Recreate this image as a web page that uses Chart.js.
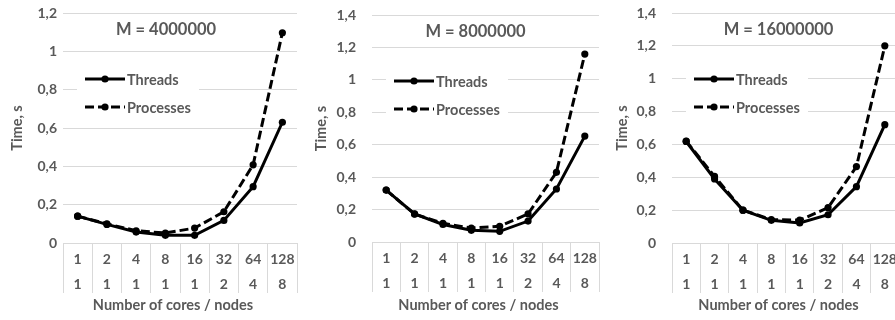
<!DOCTYPE html>
<html>
<head>
<meta charset="utf-8">
<script src="https://cdn.jsdelivr.net/npm/chart.js@4.4.1/dist/chart.umd.min.js"></script>
<style>
  html, body { margin: 0; padding: 0; background: #fff; width: 895px; height: 320px; overflow: hidden; }
  .panel { position: absolute; top: 0; height: 320px; }
</style>
</head>
<body>
<div class="panel" style="left:0;width:301px"><canvas id="c1" width="301" height="320"></canvas></div>
<div class="panel" style="left:298px;width:305px"><canvas id="c2" width="305" height="320"></canvas></div>
<div class="panel" style="left:598px;width:305px"><canvas id="c3" width="305" height="320"></canvas></div>
<script>
// values
const coreLabels = ["1", "2", "4", "8", "16", "32", "64", "128"];
const nodeLabels = ["1", "1", "1", "1", "1", "2", "4", "8"];
const chartTitles = ["M = 4000000", "M = 8000000", "M = 16000000"];
const yMaxes = [1.2, 1.4, 1.4];
const seriesNames = ["Threads", "Processes"];

const threads4M = [0.14, 0.097, 0.057, 0.04, 0.04, 0.118, 0.294, 0.63];
const processes4M = [0.14, 0.10, 0.064, 0.052, 0.078, 0.163, 0.408, 1.097];
const threads8M = [0.32, 0.173, 0.108, 0.072, 0.066, 0.129, 0.327, 0.653];
const processes8M = [0.32, 0.172, 0.115, 0.086, 0.097, 0.173, 0.43, 1.159];
const threads16M = [0.618, 0.39, 0.2, 0.138, 0.122, 0.172, 0.343, 0.72];
const processes16M = [0.62, 0.405, 0.2, 0.143, 0.139, 0.215, 0.465, 1.2];

const GRAY = "#595959";
const GRID = "#d9d9d9";
const FONT = "Lato, 'Open Sans', sans-serif";

// per-panel layout
const panels = [
  { id: "c1", threads: threads4M, processes: processes4M, yWidth: 63, tickGap: 2, yTitlePad: 9, padTop: 13, xHeight: 77, titleShift: -14 },
  { id: "c2", threads: threads8M, processes: processes8M, yWidth: 74, tickGap: 12, yTitlePad: 15, padTop: 15, xHeight: 78, titleShift: -10 },
  { id: "c3", threads: threads16M, processes: processes16M, yWidth: 74, tickGap: 12, yTitlePad: 16, padTop: 13, xHeight: 77, titleShift: -7 },
];

const overlay = {
  id: "overlay",
  beforeDatasetsDraw(chart, args, opts) {
    const a = chart.chartArea;
    const ctx = chart.ctx;
    ctx.save();
    // legend box inside plot
    ctx.fillStyle = "#fff";
    ctx.fillRect(a.left + 14, a.top + 50, 122, 58);
    chart.data.datasets.forEach((ds, i) => {
      const y = a.top + 66 + i * 28;
      ctx.strokeStyle = ds.borderColor;
      ctx.lineWidth = ds.borderWidth;
      ctx.setLineDash(ds.borderDash || []);
      ctx.beginPath();
      ctx.moveTo(a.left + 22, y);
      ctx.lineTo(a.left + 62, y);
      ctx.stroke();
      ctx.setLineDash([]);
      ctx.fillStyle = ds.pointBackgroundColor;
      ctx.beginPath();
      ctx.arc(a.left + 42, y, 3.6, 0, Math.PI * 2);
      ctx.fill();
      ctx.fillStyle = GRAY;
      ctx.font = "bold 14.5px " + FONT;
      ctx.textAlign = "left";
      ctx.textBaseline = "middle";
      ctx.fillText(ds.label, a.left + 64, y + 1);
    });
    // chart title
    ctx.fillStyle = GRAY;
    ctx.textAlign = "center";
    ctx.textBaseline = "middle";
    ctx.font = "bold 16.5px " + FONT;
    ctx.fillText(opts.title, (a.left + a.right) / 2 + opts.titleShift, a.top + 17);
    // x axis title
    ctx.font = "bold 14.5px " + FONT;
    ctx.fillText("Number of cores / nodes", (a.left + a.right) / 2 - 7, chart.height - 15);
    ctx.restore();
  },
};

function commaTick(v) {
  return String(Math.round(v * 10) / 10).replace(".", ",");
}

panels.forEach((p, k) => {
  const tickFont = { family: FONT, size: 14, weight: "bold" };
  new Chart(document.getElementById(p.id), {
    type: "line",
    data: {
      labels: coreLabels.map((c, i) => [c, nodeLabels[i]]),
      datasets: [
        {
          label: seriesNames[0],
          data: p.threads,
          borderColor: "#000",
          borderWidth: 3,
          pointRadius: 3.6,
          pointBorderWidth: 0,
          pointBackgroundColor: "#000",
          tension: 0,
        },
        {
          label: seriesNames[1],
          data: p.processes,
          borderColor: "#000",
          borderWidth: 3,
          borderDash: [9, 4],
          pointRadius: 3.6,
          pointBorderWidth: 0,
          pointBackgroundColor: "#000",
          tension: 0,
        },
      ],
    },
    options: {
      responsive: false,
      animation: false,
      layout: { padding: { top: p.padTop, right: 0, left: 0, bottom: 0 } },
      plugins: {
        legend: { display: false },
        tooltip: { enabled: false },
        overlay: { title: chartTitles[k], titleShift: p.titleShift },
      },
      scales: {
        x: {
          offset: true,
          grid: { offset: true, drawOnChartArea: false, drawTicks: true, tickLength: 50, color: GRID },
          border: { color: GRID },
          ticks: {
            padding: -46.5,
            color: GRAY,
            font: { ...tickFont, lineHeight: "25px" },
            maxRotation: 0,
            autoSkip: false,
          },
          afterFit: (s) => { s.height = p.xHeight; },
        },
        y: {
          min: 0,
          max: yMaxes[k],
          grid: { color: GRID, drawTicks: true, tickLength: p.tickGap, tickColor: "rgba(0,0,0,0)" },
          border: { display: false },
          ticks: { stepSize: 0.2, padding: 4, color: GRAY, font: tickFont, callback: commaTick },
          title: {
            display: true,
            text: "Time, s",
            color: GRAY,
            font: { family: FONT, size: 14.5, weight: "bold" },
            padding: { top: p.yTitlePad, bottom: 0 },
          },
          afterFit: (s) => { s.width = p.yWidth; },
        },
      },
    },
    plugins: [overlay],
  });
});
</script>
</body>
</html>
